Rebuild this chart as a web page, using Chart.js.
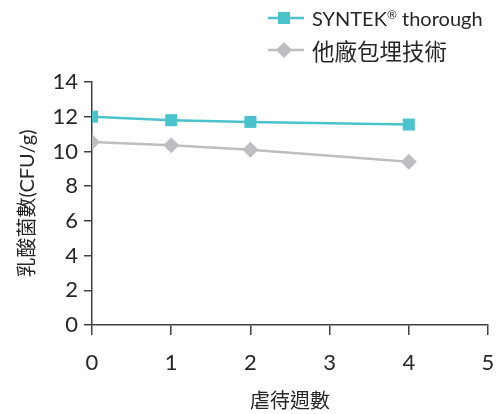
<!DOCTYPE html>
<html>
<head>
<meta charset="utf-8">
<script src="https://cdn.jsdelivr.net/npm/chart.js@4/dist/chart.umd.min.js"></script>
<style>
  html, body { margin: 0; padding: 0; background: #fff; }
  #wrap { position: relative; width: 499px; height: 414px; }
  #leyenda { position: absolute; left: 268px; top: 2px; font-family: Lato, 'Noto Sans CJK TC', sans-serif; font-size: 20px; color: #262626; }
  .item { display: flex; align-items: center; height: 32px; }
  .item svg { margin-right: 8px; }
  .item sup { font-size: 12px; vertical-align: 7px; line-height: 0; }
  .item .cjk { font-size: 22.5px; }
</style>
</head>
<body>
<div id="wrap">
  <canvas id="grafico" width="499" height="414"></canvas>
  <div id="leyenda"></div>
</div>
<script>
const semanas = [0, 1, 2, 4];
const syntek = [12.0, 11.8, 11.7, 11.55];
const otros = [10.55, 10.35, 10.1, 9.4];
const nombres = ['SYNTEK® thorough', '他廠包埋技術'];
const colores = ['#4ac3cd', '#bdbec2'];
const ticksY = [0, 2, 4, 6, 8, 10, 12, 14];
const ticksX = [0, 1, 2, 3, 4, 5];

const fuente = "Lato, 'Noto Sans CJK TC', sans-serif";
const ejeColor = '#404040';

function puntos(valores) {
  return semanas.map((x, i) => ({ x, y: valores[i] }));
}

// leyenda en HTML: linea + marcador + texto
const leyenda = document.getElementById('leyenda');
const marcas = [
  '<rect x="10" y="10" width="12" height="12" fill="' + colores[0] + '"/>',
  '<polygon points="16,8 24,16 16,24 8,16" fill="' + colores[1] + '"/>'
];
nombres.forEach((nombre, i) => {
  const div = document.createElement('div');
  div.className = 'item';
  const texto = i === 0 ? nombre.replace('®', '<sup>®</sup>') : nombre;
  div.innerHTML = '<svg width="36" height="32"><line x1="0" y1="16" x2="36" y2="16" stroke="' + colores[i] +
    '" stroke-width="2.5"/>' + marcas[i] + '</svg><span class="' + (i === 1 ? 'cjk' : '') + '">' + texto + '</span>';
  leyenda.appendChild(div);
});

new Chart(document.getElementById('grafico'), {
  type: 'line',
  data: {
    datasets: [
      {
        label: nombres[0],
        data: puntos(syntek),
        borderColor: colores[0],
        backgroundColor: colores[0],
        borderWidth: 2.5,
        pointStyle: 'rect',
        pointRadius: 8.5,
        pointBorderWidth: 0,
        tension: 0
      },
      {
        label: nombres[1],
        data: puntos(otros),
        borderColor: colores[1],
        backgroundColor: colores[1],
        borderWidth: 2.5,
        pointStyle: 'rectRot',
        pointRadius: 8,
        pointBorderWidth: 0,
        tension: 0
      }
    ]
  },
  options: {
    responsive: false,
    animation: false,
    layout: { padding: { top: 82, right: 11, bottom: 0, left: 0 } },
    plugins: { legend: { display: false }, tooltip: { enabled: false } },
    scales: {
      x: {
        type: 'linear',
        min: 0,
        max: 5,
        afterBuildTicks: (eje) => { eje.ticks = ticksX.map(v => ({ value: v })); },
        afterFit: (eje) => { eje.height = 89; eje.paddingRight = 0; eje.paddingLeft = 0; },
        border: { color: ejeColor, width: 1.5 },
        grid: { drawOnChartArea: false, tickLength: 10, color: ejeColor, lineWidth: 1.5 },
        ticks: { color: '#262626', padding: 15, font: { family: fuente, size: 22 } },
        title: { display: true, text: '虐待週數', color: '#262626', padding: { top: 0, bottom: 0 }, font: { family: fuente, size: 20 } }
      },
      y: {
        min: 0,
        max: 14,
        afterBuildTicks: (eje) => { eje.ticks = ticksY.map(v => ({ value: v })); },
        afterFit: (eje) => { eje.width = 92; eje.paddingTop = 0; eje.paddingBottom = 0; },
        border: { color: ejeColor, width: 1.5 },
        grid: { drawOnChartArea: false, tickLength: 8, color: ejeColor, lineWidth: 1.5 },
        ticks: { color: '#262626', padding: 6, font: { family: fuente, size: 22 } },
        title: { display: true, text: '乳酸菌數(CFU/g)', color: '#262626', padding: { top: 16, bottom: 0 }, font: { family: fuente, size: 20 } }
      }
    }
  }
});
</script>
</body>
</html>
